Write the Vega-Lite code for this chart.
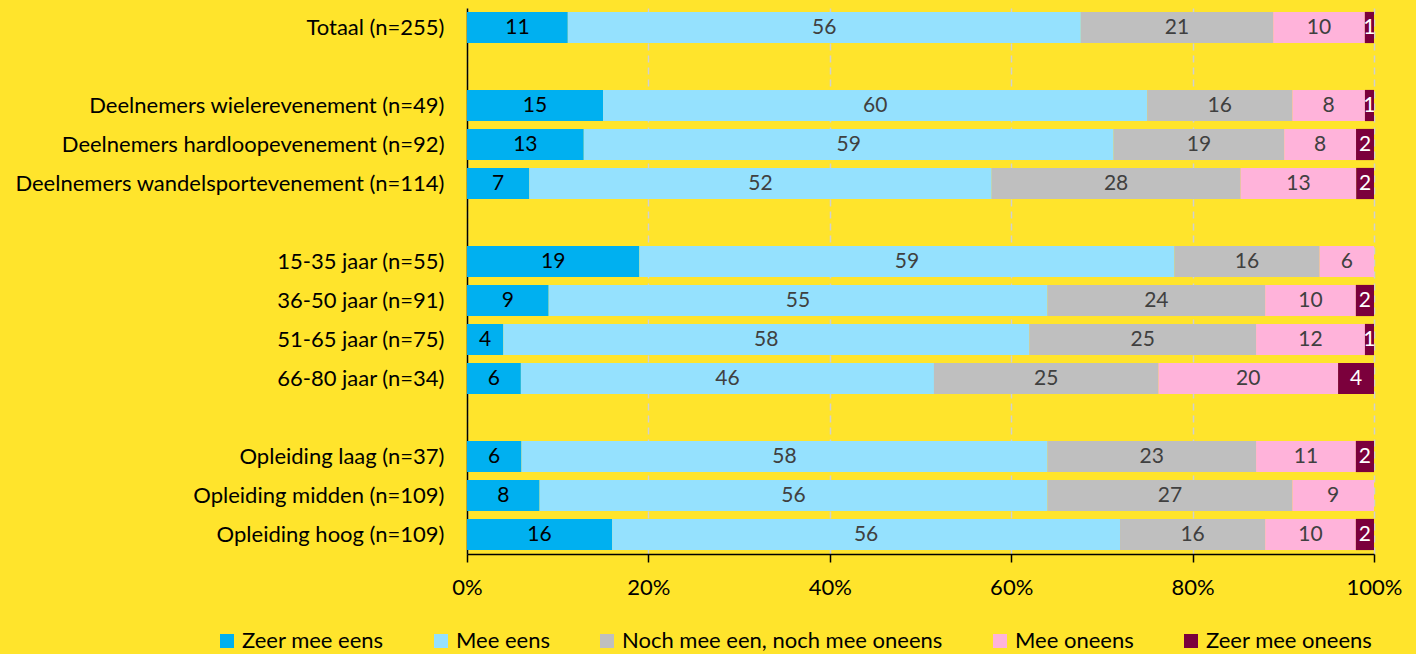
{
  "$schema": "https://vega.github.io/schema/vega-lite/v6.json",
  "autosize": {"type": "none"},
  "padding": {"left": 467, "top": 8, "right": 42, "bottom": 100},
  "width": 907,
  "height": 546,
  "background": "#FFE42C",
  "config": {
    "font": "Lato",
    "view": {"stroke": null},
    "axis": {"labelFont": "Lato", "labelFontSize": 22, "labelColor": "#000000", "title": null, "labelLimit": 600}
  },
  "data": {
    "values": [
      {"g": "Totaal (n=255)", "r": "Zeer mee eens", "v": 11},
      {"g": "Totaal (n=255)", "r": "Mee eens", "v": 56},
      {"g": "Totaal (n=255)", "r": "Noch mee een, noch mee oneens", "v": 21},
      {"g": "Totaal (n=255)", "r": "Mee oneens", "v": 10},
      {"g": "Totaal (n=255)", "r": "Zeer mee oneens", "v": 1},
      {"g": "Deelnemers wielerevenement (n=49)", "r": "Zeer mee eens", "v": 15},
      {"g": "Deelnemers wielerevenement (n=49)", "r": "Mee eens", "v": 60},
      {"g": "Deelnemers wielerevenement (n=49)", "r": "Noch mee een, noch mee oneens", "v": 16},
      {"g": "Deelnemers wielerevenement (n=49)", "r": "Mee oneens", "v": 8},
      {"g": "Deelnemers wielerevenement (n=49)", "r": "Zeer mee oneens", "v": 1},
      {"g": "Deelnemers hardloopevenement (n=92)", "r": "Zeer mee eens", "v": 13},
      {"g": "Deelnemers hardloopevenement (n=92)", "r": "Mee eens", "v": 59},
      {"g": "Deelnemers hardloopevenement (n=92)", "r": "Noch mee een, noch mee oneens", "v": 19},
      {"g": "Deelnemers hardloopevenement (n=92)", "r": "Mee oneens", "v": 8},
      {"g": "Deelnemers hardloopevenement (n=92)", "r": "Zeer mee oneens", "v": 2},
      {"g": "Deelnemers wandelsportevenement (n=114)", "r": "Zeer mee eens", "v": 7},
      {"g": "Deelnemers wandelsportevenement (n=114)", "r": "Mee eens", "v": 52},
      {"g": "Deelnemers wandelsportevenement (n=114)", "r": "Noch mee een, noch mee oneens", "v": 28},
      {"g": "Deelnemers wandelsportevenement (n=114)", "r": "Mee oneens", "v": 13},
      {"g": "Deelnemers wandelsportevenement (n=114)", "r": "Zeer mee oneens", "v": 2},
      {"g": "15-35 jaar (n=55)", "r": "Zeer mee eens", "v": 19},
      {"g": "15-35 jaar (n=55)", "r": "Mee eens", "v": 59},
      {"g": "15-35 jaar (n=55)", "r": "Noch mee een, noch mee oneens", "v": 16},
      {"g": "15-35 jaar (n=55)", "r": "Mee oneens", "v": 6},
      {"g": "36-50 jaar (n=91)", "r": "Zeer mee eens", "v": 9},
      {"g": "36-50 jaar (n=91)", "r": "Mee eens", "v": 55},
      {"g": "36-50 jaar (n=91)", "r": "Noch mee een, noch mee oneens", "v": 24},
      {"g": "36-50 jaar (n=91)", "r": "Mee oneens", "v": 10},
      {"g": "36-50 jaar (n=91)", "r": "Zeer mee oneens", "v": 2},
      {"g": "51-65 jaar (n=75)", "r": "Zeer mee eens", "v": 4},
      {"g": "51-65 jaar (n=75)", "r": "Mee eens", "v": 58},
      {"g": "51-65 jaar (n=75)", "r": "Noch mee een, noch mee oneens", "v": 25},
      {"g": "51-65 jaar (n=75)", "r": "Mee oneens", "v": 12},
      {"g": "51-65 jaar (n=75)", "r": "Zeer mee oneens", "v": 1},
      {"g": "66-80 jaar (n=34)", "r": "Zeer mee eens", "v": 6},
      {"g": "66-80 jaar (n=34)", "r": "Mee eens", "v": 46},
      {"g": "66-80 jaar (n=34)", "r": "Noch mee een, noch mee oneens", "v": 25},
      {"g": "66-80 jaar (n=34)", "r": "Mee oneens", "v": 20},
      {"g": "66-80 jaar (n=34)", "r": "Zeer mee oneens", "v": 4},
      {"g": "Opleiding laag (n=37)", "r": "Zeer mee eens", "v": 6},
      {"g": "Opleiding laag (n=37)", "r": "Mee eens", "v": 58},
      {"g": "Opleiding laag (n=37)", "r": "Noch mee een, noch mee oneens", "v": 23},
      {"g": "Opleiding laag (n=37)", "r": "Mee oneens", "v": 11},
      {"g": "Opleiding laag (n=37)", "r": "Zeer mee oneens", "v": 2},
      {"g": "Opleiding midden (n=109)", "r": "Zeer mee eens", "v": 8},
      {"g": "Opleiding midden (n=109)", "r": "Mee eens", "v": 56},
      {"g": "Opleiding midden (n=109)", "r": "Noch mee een, noch mee oneens", "v": 27},
      {"g": "Opleiding midden (n=109)", "r": "Mee oneens", "v": 9},
      {"g": "Opleiding hoog (n=109)", "r": "Zeer mee eens", "v": 16},
      {"g": "Opleiding hoog (n=109)", "r": "Mee eens", "v": 56},
      {"g": "Opleiding hoog (n=109)", "r": "Noch mee een, noch mee oneens", "v": 16},
      {"g": "Opleiding hoog (n=109)", "r": "Mee oneens", "v": 10},
      {"g": "Opleiding hoog (n=109)", "r": "Zeer mee oneens", "v": 2}
    ]
  },
  "transform": [
    {"calculate": "indexof(['Zeer mee eens','Mee eens','Noch mee een, noch mee oneens','Mee oneens','Zeer mee oneens'], datum.r)", "as": "ord"},
    {"stack": "v", "groupby": ["g"], "sort": [{"field": "ord", "order": "ascending"}], "offset": "normalize", "as": ["v0", "v1"]},
    {"calculate": "(datum.v0 + datum.v1) / 2", "as": "mid"}
  ],
  "encoding": {
    "y": {
      "field": "g",
      "type": "nominal",
      "scale": {
        "domain": ["Totaal (n=255)", " ", "Deelnemers wielerevenement (n=49)", "Deelnemers hardloopevenement (n=92)", "Deelnemers wandelsportevenement (n=114)", "  ", "15-35 jaar (n=55)", "36-50 jaar (n=91)", "51-65 jaar (n=75)", "66-80 jaar (n=34)", "   ", "Opleiding laag (n=37)", "Opleiding midden (n=109)", "Opleiding hoog (n=109)"],
        "paddingInner": 0.2,
        "paddingOuter": 0.1
      },
      "axis": {"domainColor": "#000000", "domainWidth": 1.5, "ticks": false, "labelPadding": 23, "grid": false}
    }
  },
  "layer": [
    {
      "mark": {"type": "bar"},
      "encoding": {
        "x": {
          "field": "v0",
          "type": "quantitative",
          "scale": {"domain": [0, 1], "nice": false},
          "axis": {
            "format": ".0%",
            "values": [0, 0.2, 0.4, 0.6, 0.8, 1],
            "labelFlush": false,
            "domainColor": "#000000",
            "domainWidth": 1.5,
            "tickColor": "#000000",
            "tickWidth": 1.5,
            "tickSize": 8,
            "labelPadding": 15,
            "grid": true,
            "gridColor": "#D0D0D0",
            "gridDash": [7, 5],
            "gridWidth": 1.5
          }
        },
        "x2": {"field": "v1"},
        "color": {
          "field": "r",
          "type": "nominal",
          "scale": {
            "domain": ["Zeer mee eens", "Mee eens", "Noch mee een, noch mee oneens", "Mee oneens", "Zeer mee oneens"],
            "range": ["#00B0F0", "#95E1FE", "#BFBFBF", "#FFB3DA", "#7B003C"]
          },
          "legend": {
            "title": null,
            "orient": "none",
            "legendX": -251,
            "legendY": 622,
            "direction": "horizontal",
            "columns": 5,
            "symbolType": "square",
            "symbolSize": 196,
            "symbolStrokeWidth": 0,
            "labelFont": "Lato",
            "labelFontSize": 22,
            "labelColor": "#000000",
            "labelOffset": 4,
            "columnPadding": 46,
            "labelLimit": 500
          }
        }
      }
    },
    {
      "mark": {"type": "text", "fontSize": 21, "font": "Lato", "align": "center", "baseline": "middle"},
      "encoding": {
        "x": {"field": "mid", "type": "quantitative"},
        "text": {"field": "v", "type": "quantitative"},
        "color": {
          "condition": [
            {"test": "datum.r === 'Zeer mee oneens'", "value": "#FFFFFF"},
            {"test": "datum.r === 'Zeer mee eens'", "value": "#000000"}
          ],
          "value": "#404040"
        }
      }
    }
  ]
}
